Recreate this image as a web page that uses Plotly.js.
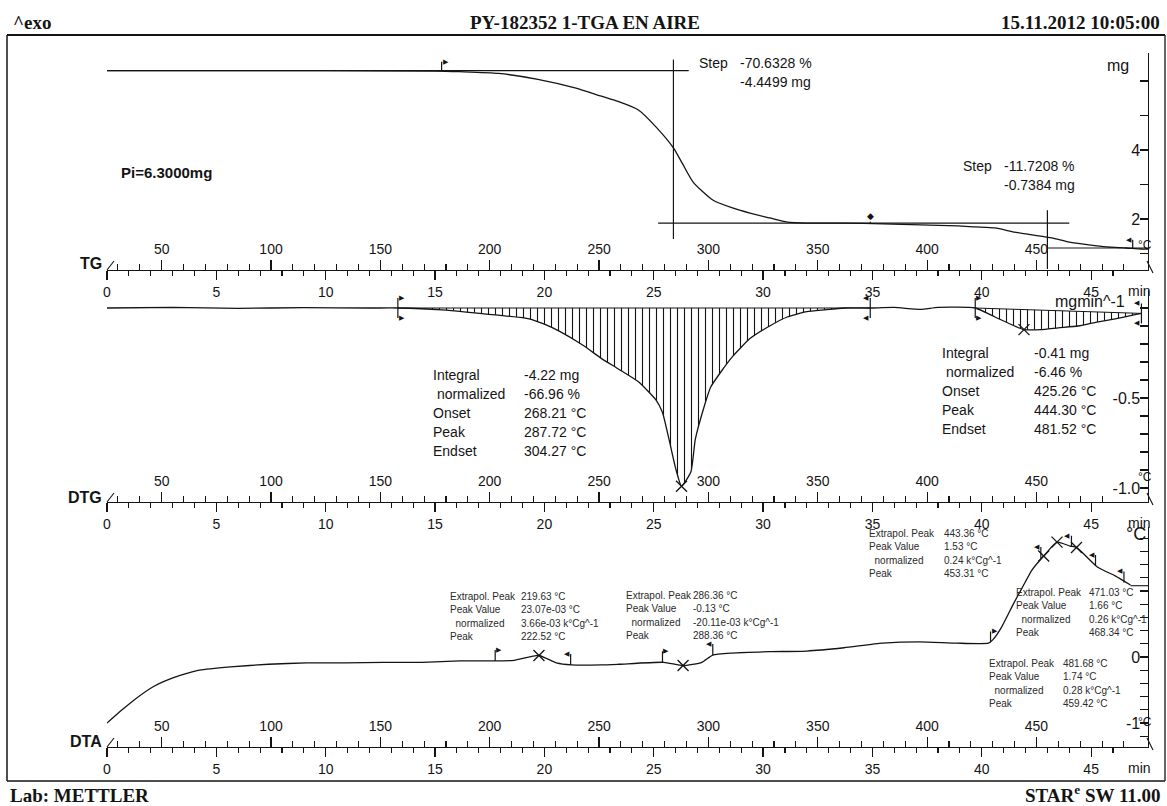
<!DOCTYPE html>
<html>
<head>
<meta charset="utf-8">
<script src="https://cdn.plot.ly/plotly-3.0.1.min.js"></script>
<style>html,body{margin:0;padding:0;background:#fff;}#chart{width:1167px;height:806px;}</style>
</head>
<body>
<div id="chart"></div>
<script>
// ---------------- DATA ----------------
// TG: sample mass (mg) vs time (min)
const tgTime = [0, 5, 10, 15, 16.1, 17.9, 19.7, 21.4, 22.6, 23.4, 24.3, 25.1, 25.9, 26.3, 26.8, 27.7, 28.6, 29.4, 30.3, 31.1, 32.0, 33.7, 35.5, 37.2, 38.9, 39.7, 40.6, 41.5, 42.3, 43.2, 44.0, 44.9, 45.7, 46.6, 47.3, 47.6];
const tgMass = [6.30, 6.30, 6.30, 6.29, 6.27, 6.22, 6.05, 5.80, 5.56, 5.40, 5.16, 4.67, 4.06, 3.62, 3.07, 2.55, 2.32, 2.17, 2.03, 1.91, 1.88, 1.88, 1.86, 1.83, 1.80, 1.77, 1.74, 1.62, 1.54, 1.45, 1.33, 1.25, 1.19, 1.16, 1.13, 1.13];
// TG step evaluation lines
const tgStepTime = [25.9, 43.0];
const tgStepTop = [6.62, 2.25];
const tgStepBottom = [1.42, 0.55];
const tgLevelStart = [0, 25.2, 43.0];
const tgLevelEnd = [26.6, 44.0, 47.6];
const tgLevelMass = [6.30, 1.88, 1.16];
const tgFlagTime = [15.3, 46.9];
const tgFlagMass = [6.30, 1.14];
const tgFlagDir = ['r', 'l'];
const tgDiamondTime = [34.9];
const tgDiamondMass = [1.88];

// DTG: mass-loss rate (mg/min) vs time (min)
const dtgTime = [0, 3, 6, 9, 12, 13.3, 15.3, 17.9, 19.3, 20.0, 20.7, 21.8, 22.6, 23.4, 24.3, 25.1, 25.4, 25.7, 26.0, 26.27, 26.7, 26.9, 27.3, 27.6, 28.1, 28.6, 29.4, 30.3, 31.1, 32.0, 32.8, 33.7, 34.9, 36.0, 37.2, 38.0, 39.7, 40.6, 41.5, 41.93, 42.7, 43.5, 44.4, 45.2, 46.1, 46.9, 47.3];
const dtgRate = [0, 0.003, -0.002, 0.002, 0, 0, -0.01, -0.04, -0.06, -0.09, -0.13, -0.21, -0.28, -0.34, -0.41, -0.51, -0.58, -0.73, -0.89, -0.99, -0.91, -0.73, -0.55, -0.44, -0.35, -0.27, -0.17, -0.10, -0.05, -0.02, -0.01, 0, 0, 0.003, -0.008, 0.004, 0, -0.05, -0.10, -0.12, -0.12, -0.11, -0.10, -0.08, -0.06, -0.04, -0.03];
const dtgPeakTime = [26.27, 41.93];
const dtgPeakRate = [-0.99, -0.12];
const dtgLimitTime = [13.3, 34.9, 39.7, 47.3];
const dtgLimitRate = [0, 0, 0, -0.03];
const dtgLimitDir = ['r', 'l', 'r', 'l'];
const dtgPeak1Range = [13.3, 34.9];
const dtgPeak2Range = [39.7, 47.3];

// DTA: temperature difference (°C) vs time (min)
const dtaTime = [0, 0.69, 1.24, 2.11, 2.98, 3.85, 4.22, 5.64, 7.39, 9.13, 10.87, 12.66, 14.4, 16.15, 17.75, 18.62, 19.75, 20.55, 21.24, 22.6, 23.4, 25.46, 26.34, 27.2, 27.7, 28.58, 30.28, 32.0, 33.7, 35.46, 37.16, 38.85, 40.3, 40.5, 40.9, 41.47, 41.8, 42.3, 42.83, 43.44, 44.04, 44.33, 45.3, 46.1, 46.8];
const dtaSignal = [-1.00, -0.80, -0.65, -0.45, -0.32, -0.23, -0.20, -0.15, -0.11, -0.09, -0.09, -0.08, -0.08, -0.06, -0.06, -0.05, 0.023, -0.09, -0.12, -0.12, -0.11, -0.08, -0.13, -0.08, 0.03, 0.06, 0.08, 0.09, 0.14, 0.21, 0.23, 0.21, 0.21, 0.26, 0.45, 0.82, 1.02, 1.32, 1.53, 1.74, 1.68, 1.66, 1.36, 1.23, 1.09];
const dtaPeakTime = [19.75, 26.34, 42.83, 43.44, 44.33];
const dtaPeakValue = [0.023, -0.13, 1.53, 1.74, 1.66];
const dtaFlagTime = [17.75, 21.2, 25.4, 27.7, 40.4, 42.7, 44.1, 45.2, 46.5];
const dtaFlagValue = [-0.06, -0.12, -0.08, 0.03, 0.22, 1.50, 1.67, 1.38, 1.13];
const dtaFlagDir = ['r', 'l', 'r', 'l', 'r', 'l', 'l', 'l', 'l'];
const dtaEvalTime = [46.8, 47.6];
const dtaEvalValue = [1.08, 1.08];

// Axis ticks
const timeTicks = [0, 5, 10, 15, 20, 25, 30, 35, 40, 45];
const timeTickText = ['0', '5', '10', '15', '20', '25', '30', '35', '40', '45'];
const tempTicks = [50, 100, 150, 200, 250, 300, 350, 400, 450];
const tempTickText = ['50', '100', '150', '200', '250', '300', '350', '400', '450'];
const tgTicks = [2, 4];
const tgTickText = ['2', '4'];
const dtgTicks = [-0.5, -1.0];
const dtgTickText = ['-0.5', '-1.0'];
const dtaTicks = [0, -1];
const dtaTickText = ['0', '-1'];

// Texts
const dtgLabels = ['Integral', ' normalized', 'Onset', 'Peak', 'Endset'];
const dtgValues1 = ['-4.22 mg', '-66.96 %', '268.21 °C', '287.72 °C', '304.27 °C'];
const dtgValues2 = ['-0.41 mg', '-6.46 %', '425.26 °C', '444.30 °C', '481.52 °C'];
const dtaLabels = ['Extrapol. Peak', 'Peak Value', '  normalized', 'Peak'];
const dtaValues1 = ['219.63 °C', '23.07e-03 °C', '3.66e-03 k°Cg^-1', '222.52 °C'];
const dtaValues2 = ['286.36 °C', '-0.13 °C', '-20.11e-03 k°Cg^-1', '288.36 °C'];
const dtaValues3 = ['443.36 °C', '1.53 °C', '0.24 k°Cg^-1', '453.31 °C'];
const dtaValues4 = ['471.03 °C', '1.66 °C', '0.26 k°Cg^-1', '468.34 °C'];
const dtaValues5 = ['481.68 °C', '1.74 °C', '0.28 k°Cg^-1', '459.42 °C'];

// ---------------- LAYOUT HELPERS ----------------
const W = 1167, H = 806;
const PX = x => x / W;
const PY = y => 1 - y / H;
const SANS = 'Liberation Sans, Arial, Helvetica, sans-serif';
const SERIF = 'Liberation Serif, Times New Roman, serif';
const INK = '#141414';
const X0 = 107, X1 = 1148;
const TMAX = 47.6;               // minutes at right end of rulers
const HEAT_RATE = 10;            // K/min
const T_START = 25;              // °C at t = 0
const tempRange = [T_START, T_START + HEAT_RATE * TMAX];

// panel pixel geometry: ruler line, top of y axis, zero pixel, pixels per unit
const P_TG = {ruler: 270, top: 53, zero: 288, ppu: 34.5};
const P_DTG = {ruler: 502, top: 290, zero: 308, ppu: 180};
const P_DTA = {ruler: 747, top: 527, zero: 657, ppu: 66};
const yRange = p => [(p.zero - p.ruler) / p.ppu, (p.zero - p.top) / p.ppu];

function timeAxis(anchor) {
  return {
    domain: [PX(X0), PX(X1)], range: [0, TMAX], anchor: anchor, side: 'bottom',
    showline: true, linecolor: INK, linewidth: 1.3, mirror: false,
    ticks: 'outside', ticklen: 9, tickwidth: 1.2, tickcolor: INK,
    tickmode: 'array', tickvals: timeTicks, ticktext: timeTickText,
    minor: {tickmode: 'linear', tick0: 0, dtick: 1, ticks: 'outside', ticklen: 5, tickwidth: 1.1, tickcolor: INK},
    tickfont: {family: SANS, size: 14, color: INK},
    showgrid: false, zeroline: false, fixedrange: true
  };
}
function tempAxis(over, rulerY) {
  return {
    overlaying: over, anchor: 'free', position: PY(rulerY), side: 'top',
    range: tempRange, showline: true, linecolor: INK, linewidth: 1.3,
    ticks: 'outside', ticklen: 10, tickwidth: 1.2, tickcolor: INK,
    tickmode: 'array', tickvals: tempTicks, ticktext: tempTickText,
    minor: {tickmode: 'linear', tick0: 0, dtick: 10, ticks: 'outside', ticklen: 6, tickwidth: 1.1, tickcolor: INK},
    tickfont: {family: SANS, size: 14, color: INK},
    showgrid: false, zeroline: false, fixedrange: true
  };
}
function valueAxis(anchor, p, vals, txt, minorStep) {
  return {
    domain: [PY(p.ruler), PY(p.top)], range: yRange(p), anchor: anchor, side: 'right',
    showline: true, linecolor: INK, linewidth: 1.3,
    ticks: 'inside', ticklen: 8, tickwidth: 1.2, tickcolor: INK,
    tickmode: 'array', tickvals: vals, ticktext: txt, ticklabelposition: 'inside',
    minor: {tickmode: 'linear', tick0: 0, dtick: minorStep, ticks: 'inside', ticklen: 8, tickwidth: 1.2, tickcolor: INK},
    tickfont: {family: SANS, size: 16, color: INK},
    showgrid: false, zeroline: false, fixedrange: true
  };
}

// ---------------- TRACES ----------------
const line = (w) => ({color: INK, width: w || 1.3});
const cross = {symbol: 'x-thin-open', size: 11, color: INK, line: {color: INK, width: 1.3}};
const traces = [];

// TG curve
traces.push({x: tgTime, y: tgMass, xaxis: 'x', yaxis: 'y', mode: 'lines', line: Object.assign(line(1.3), {shape: 'spline', smoothing: 0.6})});
// TG level lines
const lvX = [], lvY = [];
tgLevelMass.forEach((m, i) => { lvX.push(tgLevelStart[i], tgLevelEnd[i], null); lvY.push(m, m, null); });
traces.push({x: lvX, y: lvY, xaxis: 'x', yaxis: 'y', mode: 'lines', line: line(1.2)});
// TG step verticals
const stX = [], stY = [];
tgStepTime.forEach((t, i) => { stX.push(t, t, null); stY.push(tgStepTop[i], tgStepBottom[i], null); });
traces.push({x: stX, y: stY, xaxis: 'x', yaxis: 'y', mode: 'lines', line: line(1.2)});
// temperature helper (registers the overlaid temperature rulers)
traces.push({x: [tempTicks[0]], y: [null], xaxis: 'x2', yaxis: 'y', mode: 'lines'});

// DTG hatched peak 1
const inR = (r) => (t) => t >= r[0] - 1e-9 && t <= r[1] + 1e-9;
const p1 = dtgTime.map((t, i) => i).filter(i => inR(dtgPeak1Range)(dtgTime[i]));
const p2 = dtgTime.map((t, i) => i).filter(i => inR(dtgPeak2Range)(dtgTime[i]));
const hatch = {shape: '|', size: 7, solidity: 0.16, fgcolor: INK, bgcolor: 'rgba(0,0,0,0)', fgopacity: 1};
traces.push({x: p1.map(i => dtgTime[i]), y: p1.map(i => dtgRate[i]), xaxis: 'x3', yaxis: 'y2', mode: 'lines',
  line: {width: 0, shape: 'spline', smoothing: 0.5}, fill: 'tozeroy', fillcolor: 'rgba(0,0,0,0)', fillpattern: hatch});
// DTG baseline under peak 2, then hatched peak 2
traces.push({x: [dtgLimitTime[2], dtgLimitTime[3]], y: [dtgLimitRate[2], dtgLimitRate[3]], xaxis: 'x3', yaxis: 'y2', mode: 'lines', line: line(1.0)});
traces.push({x: p2.map(i => dtgTime[i]), y: p2.map(i => dtgRate[i]), xaxis: 'x3', yaxis: 'y2', mode: 'lines',
  line: {width: 0, shape: 'spline', smoothing: 0.5}, fill: 'tonexty', fillcolor: 'rgba(0,0,0,0)', fillpattern: hatch});
// DTG curve
traces.push({x: dtgTime, y: dtgRate, xaxis: 'x3', yaxis: 'y2', mode: 'lines', line: Object.assign(line(1.3), {shape: 'spline', smoothing: 0.5})});
// DTG baseline under peak 1
traces.push({x: [dtgLimitTime[0], dtgLimitTime[1]], y: [dtgLimitRate[0], dtgLimitRate[1]], xaxis: 'x3', yaxis: 'y2', mode: 'lines', line: line(1.0)});
// DTG peak crosses
traces.push({x: dtgPeakTime, y: dtgPeakRate, xaxis: 'x3', yaxis: 'y2', mode: 'markers', marker: cross});
traces.push({x: [tempTicks[0]], y: [null], xaxis: 'x4', yaxis: 'y2', mode: 'lines'});

// DTA curve
traces.push({x: dtaTime, y: dtaSignal, xaxis: 'x5', yaxis: 'y3', mode: 'lines', line: Object.assign(line(1.3), {shape: 'spline', smoothing: 0.5})});
traces.push({x: dtaEvalTime, y: dtaEvalValue, xaxis: 'x5', yaxis: 'y3', mode: 'lines', line: line(1.1)});
traces.push({x: dtaPeakTime, y: dtaPeakValue, xaxis: 'x5', yaxis: 'y3', mode: 'markers', marker: cross});
traces.push({x: [tempTicks[0]], y: [null], xaxis: 'x6', yaxis: 'y3', mode: 'lines'});

// ---------------- ANNOTATIONS ----------------
const ann = [];
function txt(text, x, y, size, opts) {
  opts = opts || {};
  ann.push({xref: 'paper', yref: 'paper', x: PX(x), y: PY(y), text: text, showarrow: false,
    xanchor: opts.anchor || 'left', yanchor: 'middle', borderpad: 0,
    font: {family: opts.family || SANS, size: size, color: opts.color || INK}});
}
function flag(xr, yr, t, v, glyph, anchor, dy, size) {
  ann.push({xref: xr, yref: yr, x: t, y: v, ax: 0, ay: dy, showarrow: true, arrowhead: 0,
    arrowwidth: 1.2, arrowcolor: INK, standoff: 0, startstandoff: 0, borderpad: 0,
    text: glyph, xanchor: anchor, yanchor: 'middle',
    font: {family: 'DejaVu Sans', size: size || 7, color: INK}});
}
const flagGlyph = d => d === 'r' ? '▶' : '◀';
const flagAnchor = d => d === 'r' ? 'left' : 'right';

// header / footer
txt('<b>^exo</b>', 12, 22, 19, {family: SERIF});
txt('<b>15.11.2012 10:05:00</b>', 1161, 22, 19, {family: SERIF, anchor: 'right'});
txt('<b>Lab: METTLER</b>', 9, 795, 19, {family: SERIF});
txt('<b>STAR<sup>e</sup> SW 11.00</b>', 1162, 794, 19, {family: SERIF, anchor: 'right'});

// ruler names and units
txt('<b>TG</b>', 103, 263, 16, {anchor: 'right'});
txt('<b>DTG</b>', 103, 497, 16, {anchor: 'right'});
txt('<b>DTA</b>', 103, 741, 16, {anchor: 'right'});
[P_TG, P_DTG, P_DTA].forEach(p => {
  txt('min', 1152, p.ruler + 21, 14, {anchor: 'right'});
  txt('°C', 1153, p.ruler - 25, 12, {anchor: 'right'});
});
txt('mg', 1118, 65, 16, {anchor: 'center'});
txt('mgmin^-1', 1090, 301, 16, {anchor: 'center'});
txt('°C', 1136, 534, 18, {anchor: 'center'});

// TG texts
txt('<b>Pi=6.3000mg</b>', 120, 173, 15);
txt('Step', 698, 63, 14);
txt('-70.6328 %', 739, 63, 14);
txt('-4.4499 mg', 739, 82, 14);
txt('Step', 962, 166, 14);
txt('-11.7208 %', 1003, 166, 14);
txt('-0.7384 mg', 1003, 185, 14);

// DTG result tables
dtgLabels.forEach((l, i) => {
  txt(l.replace(/^ /, '&nbsp;'), 432, 375 + i * 19, 14);
  txt(dtgValues1[i], 523, 375 + i * 19, 14);
  txt(l.replace(/^ /, '&nbsp;'), 941, 353 + i * 19, 14);
  txt(dtgValues2[i], 1033, 353 + i * 19, 14);
});

// DTA result tables
const dtaBlocks = [
  {lx: 449, vx: 520, y: 596, vals: dtaValues1},
  {lx: 625, vx: 692, y: 595, vals: dtaValues2},
  {lx: 868, vx: 943, y: 533, vals: dtaValues3},
  {lx: 1015, vx: 1088, y: 592, vals: dtaValues4},
  {lx: 988, vx: 1062, y: 663, vals: dtaValues5}
];
dtaBlocks.forEach(b => {
  dtaLabels.forEach((l, i) => {
    txt(l.replace(/^ +/, '&nbsp;&nbsp;'), b.lx, b.y + i * 13.6, 10, {color: '#2a2a2a'});
    txt(b.vals[i], b.vx, b.y + i * 13.6, 10, {color: '#2a2a2a'});
  });
});

// flags, diamond and integration limits
tgFlagTime.forEach((t, i) => flag('x', 'y', t, tgFlagMass[i], flagGlyph(tgFlagDir[i]), flagAnchor(tgFlagDir[i]), -9));
tgDiamondTime.forEach((t, i) => flag('x', 'y', t, tgDiamondMass[i], '◆', 'center', -7, 9));
dtgLimitTime.forEach((t, i) => {
  flag('x3', 'y2', t, dtgLimitRate[i], flagGlyph(dtgLimitDir[i]), flagAnchor(dtgLimitDir[i]), -10);
  flag('x3', 'y2', t, dtgLimitRate[i], flagGlyph(dtgLimitDir[i]), flagAnchor(dtgLimitDir[i]), 10);
});
dtaFlagTime.forEach((t, i) => flag('x5', 'y3', t, dtaFlagValue[i], flagGlyph(dtaFlagDir[i]), flagAnchor(dtaFlagDir[i]), -11));

// ---------------- SHAPES (frame + ruler ornaments) ----------------
const frame = (x0, y0, x1, y1, w) => ({type: 'line', xref: 'paper', yref: 'paper',
  x0: PX(x0), y0: PY(y0), x1: PX(x1), y1: PY(y1), line: {color: INK, width: w || 1.3}});
const shapes = [
  frame(7, 35, 1165, 35, 2), frame(7, 35, 7, 781, 1.5), frame(1165, 35, 1165, 781, 1.3), frame(7, 781, 1165, 781, 1.5)
];
[P_TG, P_DTG, P_DTA].forEach(p => {
  shapes.push(frame(107, p.ruler, 114, p.ruler - 9, 1.1));
  shapes.push(frame(X1 - 1, p.ruler - 9, X1 + 5, p.ruler + 3, 1.1));
});

const layout = {
  width: W, height: H, margin: {l: 0, r: 0, t: 0, b: 0, pad: 0},
  paper_bgcolor: '#ffffff', plot_bgcolor: 'rgba(0,0,0,0)', showlegend: false,
  title: {text: '<b>PY-182352 1-TGA EN AIRE</b>', x: PX(585), xref: 'paper', xanchor: 'center',
    y: PY(22), yref: 'container', yanchor: 'middle', font: {family: SERIF, size: 19, color: INK}},
  xaxis: timeAxis('y'), xaxis2: tempAxis('x', P_TG.ruler),
  xaxis3: timeAxis('y2'), xaxis4: tempAxis('x3', P_DTG.ruler),
  xaxis5: timeAxis('y3'), xaxis6: tempAxis('x5', P_DTA.ruler),
  yaxis: valueAxis('x', P_TG, tgTicks, tgTickText, 1),
  yaxis2: valueAxis('x3', P_DTG, dtgTicks, dtgTickText, 0.1),
  yaxis3: valueAxis('x5', P_DTA, dtaTicks, dtaTickText, 0.2),
  annotations: ann, shapes: shapes
};
traces.forEach(t => { t.showlegend = false; t.hoverinfo = 'skip'; t.cliponaxis = false; });
Plotly.newPlot('chart', traces, layout, {staticPlot: true, displayModeBar: false});
</script>
</body>
</html>
